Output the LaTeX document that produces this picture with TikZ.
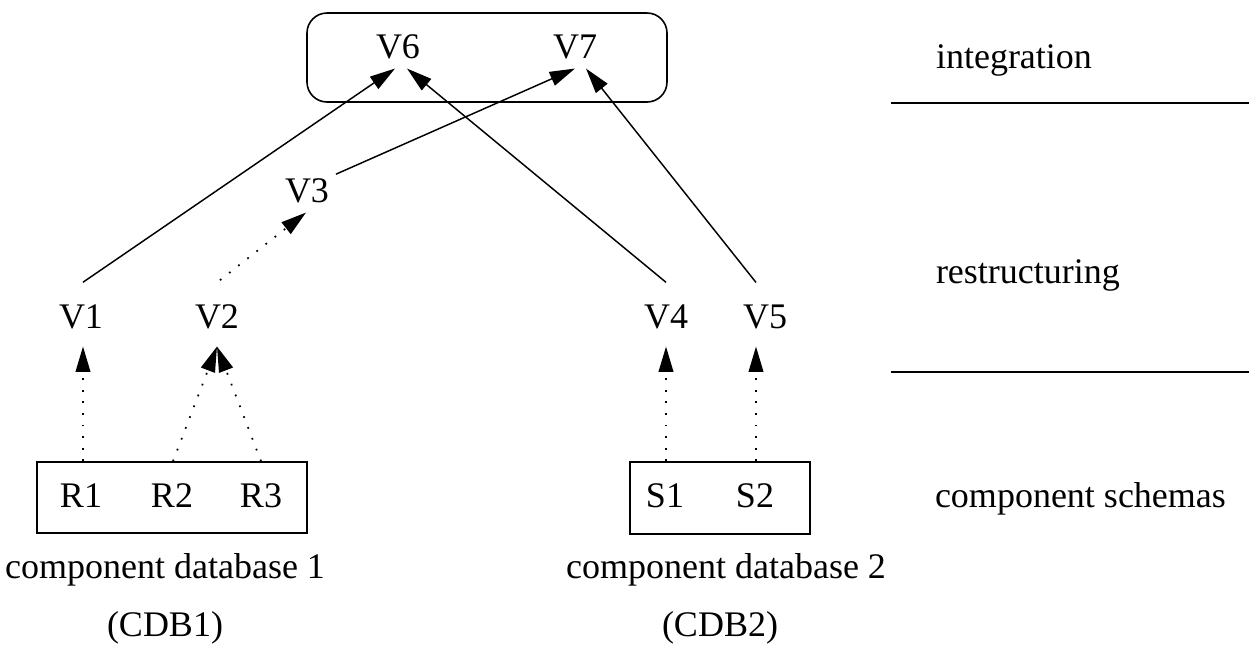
\documentclass[tikz,border=0pt]{standalone}
\usepackage{fontspec}
\setmainfont{Liberation Serif}
\usetikzlibrary{arrows.meta,calc}

\begin{document}
\begin{tikzpicture}[
  x=0.75pt, y=-0.75pt,
  font=\fontsize{27}{32}\selectfont,
  lbl/.style={inner sep=0pt, outer sep=0pt, anchor=base},
  lblw/.style={inner sep=0pt, outer sep=0pt, anchor=base west},
  frame/.style={draw, line width=1.2pt, inner sep=0pt},
  solidarr/.style={line width=1.1pt, -{Triangle[length=19pt, width=11pt]}},
  dotarr/.style={line width=1.3pt, dash pattern=on 1.3pt off 7.4pt,
                 -{Triangle[length=19pt, width=11pt]}},
  rule/.style={line width=1.1pt}
]
\useasboundingbox (0,0) rectangle (1249,644);

% integration box
\node[frame, rounded corners=15pt, minimum width=270pt, minimum height=66.75pt]
  (Ibox) at (487,57.5) {};
\node[lbl] (V6) at (398,58) {V6};
\node[lbl] (V7) at (575,58) {V7};

% restructured views
\node[lbl] (V3) at (307,202) {V3};
\node[lbl] (V1) at (81,328) {V1};
\node[lbl] (V2) at (217,328) {V2};
\node[lbl] (V4) at (666,328) {V4};
\node[lbl] (V5) at (765,328) {V5};

% component schemas
\node[frame, minimum width=202.5pt, minimum height=53.25pt] (Rbox) at (172,497.5) {};
\node[lbl] (R1) at (81,507) {R1};
\node[lbl] (R2) at (172,507) {R2};
\node[lbl] (R3) at (261,507) {R3};

\node[frame, minimum width=135pt, minimum height=54pt] (Sbox) at (720,498) {};
\node[lbl] (S1) at (665,507) {S1};
\node[lbl] (S2) at (755,507) {S2};

% database captions
\node[lbl] (cdb1) at (165,578) {component database 1};
\node[lbl] (cdb1s) at (165,636) {(CDB1)};
\node[lbl] (cdb2) at (726,578) {component database 2};
\node[lbl] (cdb2s) at (720,636) {(CDB2)};

% layer names and separators
\node[lblw] (Lint) at (936,68) {integration};
\node[lblw] (Lres) at (936,283) {restructuring};
\node[lblw] (Lcs) at (935,507) {component schemas};
\coordinate (s1a) at (891,103);
\coordinate (s1b) at (1249,103);
\coordinate (s2a) at (891,372);
\coordinate (s2b) at (1249,372);
\draw[rule] (s1a) -- (s1b);
\draw[rule] (s2a) -- (s2b);

% integration arrows
\draw[solidarr] ($(V1.north)+(2,-22)$) -- ($(V6.south)+(-3,10)$);
\draw[solidarr] ($(V4.north)+(0,-22)$) -- ($(V6.south)+(9,10)$);
\draw[solidarr] ($(V3.north east)+(7,-4)$) -- ($(V7.south)+(0,10)$);
\draw[solidarr] ($(V5.north)+(-9,-22)$) -- ($(V7.south)+(11,10)$);

% restructuring arrows
\draw[dotarr] ($(V2.north)+(3,-24)$) -- ($(V3.south)+(-1,10)$);
\draw[dotarr] ($(R1|-Rbox.north)+(2,0)$) -- ($(V1.south)+(2,18)$);
\draw[dotarr] ($(R2|-Rbox.north)+(1,0)$) -- ($(V2.south)+(0,18)$);
\draw[dotarr] ($(R3|-Rbox.north)+(0,0)$) -- ($(V2.south)+(0,18)$);
\draw[dotarr] ($(S1|-Sbox.north)+(1,0)$) -- ($(V4.south)+(0,18)$);
\draw[dotarr] ($(S2|-Sbox.north)+(1,0)$) -- ($(V5.south)+(-9,18)$);
\end{tikzpicture}
\end{document}
